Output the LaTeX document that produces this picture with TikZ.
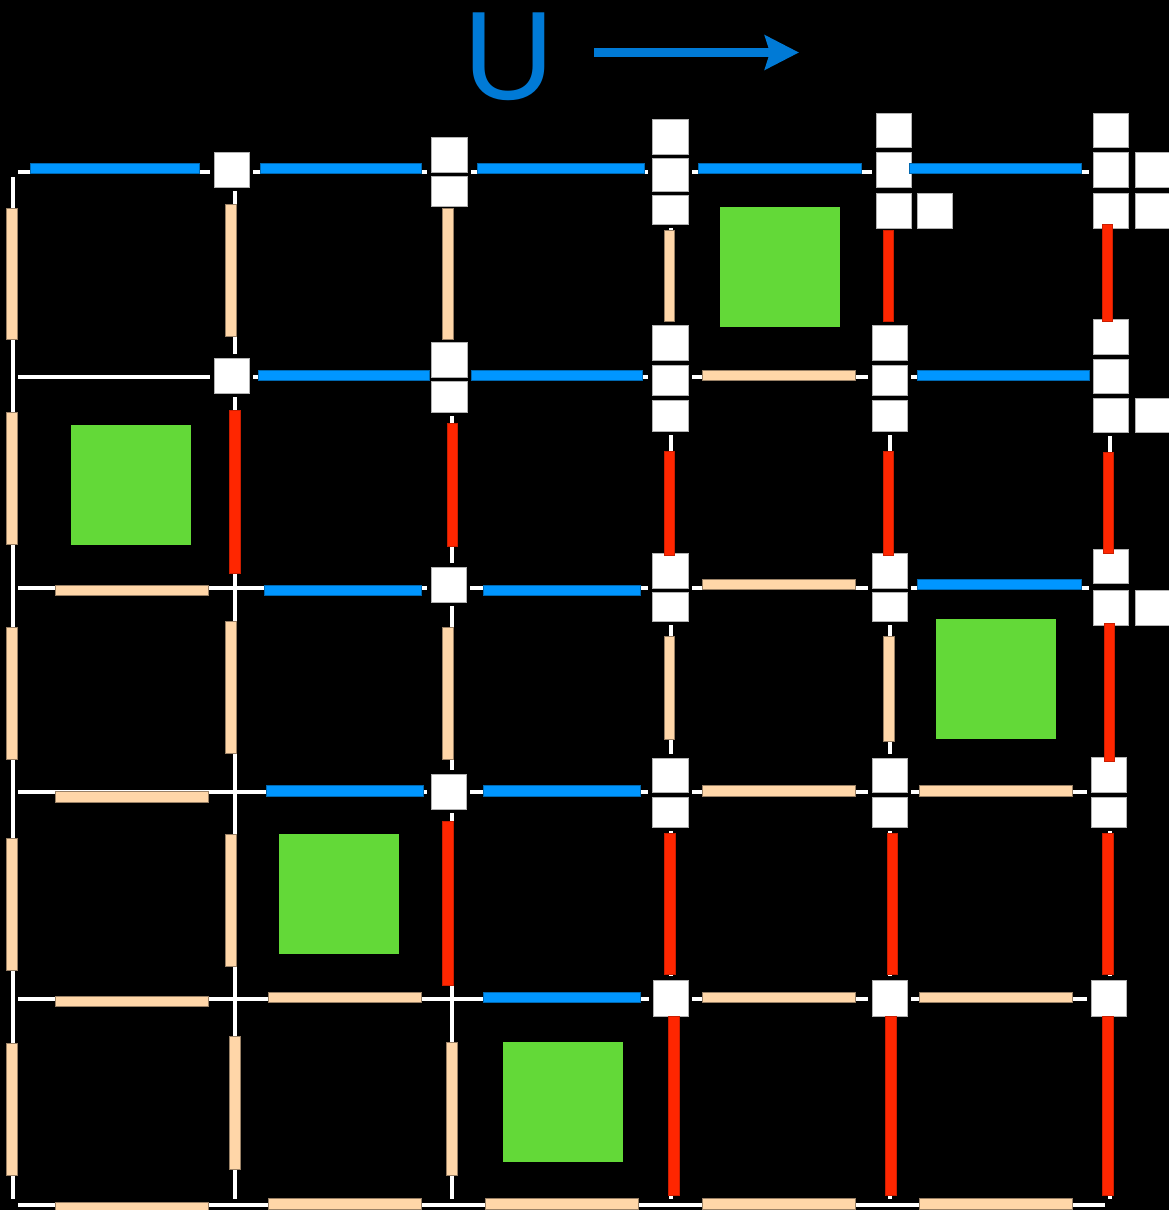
\documentclass[tikz,border=0pt]{standalone}
\usepackage{fontspec}
\setmainfont{Liberation Sans}
\usetikzlibrary{arrows.meta}
\definecolor{barblue}{RGB}{0,150,255}
\definecolor{barpeach}{RGB}{255,214,168}
\definecolor{barred}{RGB}{255,38,0}
\definecolor{cellgreen}{RGB}{99,217,56}
\definecolor{labelblue}{RGB}{0,122,214}
\tikzset{
  gridline/.style={white, line width=4pt},
  bluebar/.style={fill=barblue, draw=barblue!70!black, line width=0.4pt},
  peachbar/.style={fill=barpeach, draw=barpeach!60!black, line width=0.4pt},
  redbar/.style={fill=barred, draw=barred!80!black, line width=0.4pt},
  greencell/.style={fill=cellgreen},
  halo/.style={fill=black},
  sitesq/.style={fill=white, draw=gray!60, line width=0.8pt},
  ulabel/.style={text=labelblue, font=\fontsize{126}{126}\selectfont, anchor=base, inner sep=0pt},
  uarrow/.style={draw=labelblue, line width=8.4pt, -{Stealth[length=34pt, width=34pt, inset=5pt, fill=labelblue]}}
}
\begin{document}
\begin{tikzpicture}[x=1pt,y=-1pt]
\fill[black] (0,0) rectangle (1169,1210);
\useasboundingbox (0,0) rectangle (1169,1210);

% title and arrow
\node[ulabel] (ulab) at (508.5,99) {U};
\coordinate (arrS) at (594,52.5);
\coordinate (arrE) at (799,52.5);
\draw[uarrow] (arrS) -- (arrE);

% grid lines
\foreach \y in {172,377.3,588,792.3,999,1205}
  \draw[gridline] (18,\y) -- (1105,\y);
\foreach \x in {13.3,235,452,671,890,1109.5}
  \draw[gridline] (\x,177) -- (\x,1199);

% green cells
\foreach \a/\b in {720/207,71/425,936/619,279/834,503/1042}
  \path[greencell] (\a,\b) rectangle ++(120,120);

% site squares
\def\sqlist{214/152/249/187, 431/137/467/172, 431/176/467/206,
 652/119/688/154, 652/158/688/191, 652/195/688/224,
 876/113/911/147, 876/152/911/187, 876/193/911/228, 917/193/952/228,
 1093/113/1128/147, 1093/152/1128/187, 1093/193/1128/228, 1135/152/1169/187, 1135/193/1169/228,
 214/358/249/393, 431/342/467/377, 431/381/467/412,
 652/325/688/360, 652/365/688/395, 652/400/688/431,
 872/325/907/360, 872/365/907/395, 872/400/907/431,
 1093/319/1128/354, 1093/359/1128/393, 1093/398/1128/432, 1135/398/1169/432,
 431/567/466/602, 652/553/688/588, 652/592/688/621,
 872/553/907/588, 872/592/907/621,
 1093/549/1128/583, 1093/590/1128/625, 1135/590/1169/625,
 431/774/466/809, 652/758/688/792, 652/797/688/827,
 872/758/907/792, 872/797/907/827,
 1091/757/1126/792, 1091/797/1126/827,
 653/980/688/1016, 872/980/907/1016, 1091/980/1126/1016}
\foreach \a/\b/\c/\d in \sqlist
  \path[halo] (\a-4,\b-4) rectangle (\c+4,\d+4);
\foreach \a/\b/\c/\d in \sqlist
  \path[sitesq] (\a,\b) rectangle (\c,\d);

% blue bars
\foreach \a/\b/\c/\d in {30/199/163/173, 260/421/163/173, 477/644/163/173, 698/861/163/173, 909/1081/163/173,
 258/429/370/380, 471/642/370/380, 917/1089/370/380,
 264/421/585/595, 483/640/585/595, 917/1081/579/589,
 266/423/785/796, 483/640/785/796,
 483/640/992/1002}
  \path[bluebar] (\a,\c) rectangle (\b,\d);

% peach bars
\foreach \a/\b/\c/\d in {702/855/370/380,
 55/208/585/595, 702/855/579/589,
 55/208/791/802, 702/855/785/796, 919/1072/785/796,
 55/208/996/1006, 268/421/992/1002, 702/855/992/1002, 919/1072/992/1002,
 55/208/1202/1212, 268/421/1198/1209, 485/638/1198/1209, 702/855/1198/1209, 919/1072/1198/1209,
 6.5/17/208/339, 6.5/17/412/544, 6.5/17/627/759, 6.5/17/838/970, 6.5/17/1043/1175,
 225.5/236/204/336, 225.5/236/621/753, 225.5/236/834/966, 229.5/240/1036/1169,
 442.5/453.5/208/339, 442.5/453.5/627/759, 446.5/457/1042/1175,
 664/674.5/230/321, 664/674.5/636/739,
 883/894/636/741}
  \path[peachbar] (\a,\c) rectangle (\b,\d);

% red bars
\foreach \a/\b/\c/\d in {229.5/240/410/573,
 447/457/423/546, 442.5/453/821/985,
 664/674.5/451/555, 664/675/833/974, 668/679/1016/1195,
 883.5/893.5/230/321, 883.5/893.5/451/555, 887/897.5/833/974, 885/896/1016/1195,
 1102.5/1112.5/224/321, 1103/1113/452/553, 1104/1114.5/623/761, 1102/1113/833/974, 1102/1113/1016/1195}
  \path[redbar] (\a,\c) rectangle (\b,\d);
\end{tikzpicture}
\end{document}
